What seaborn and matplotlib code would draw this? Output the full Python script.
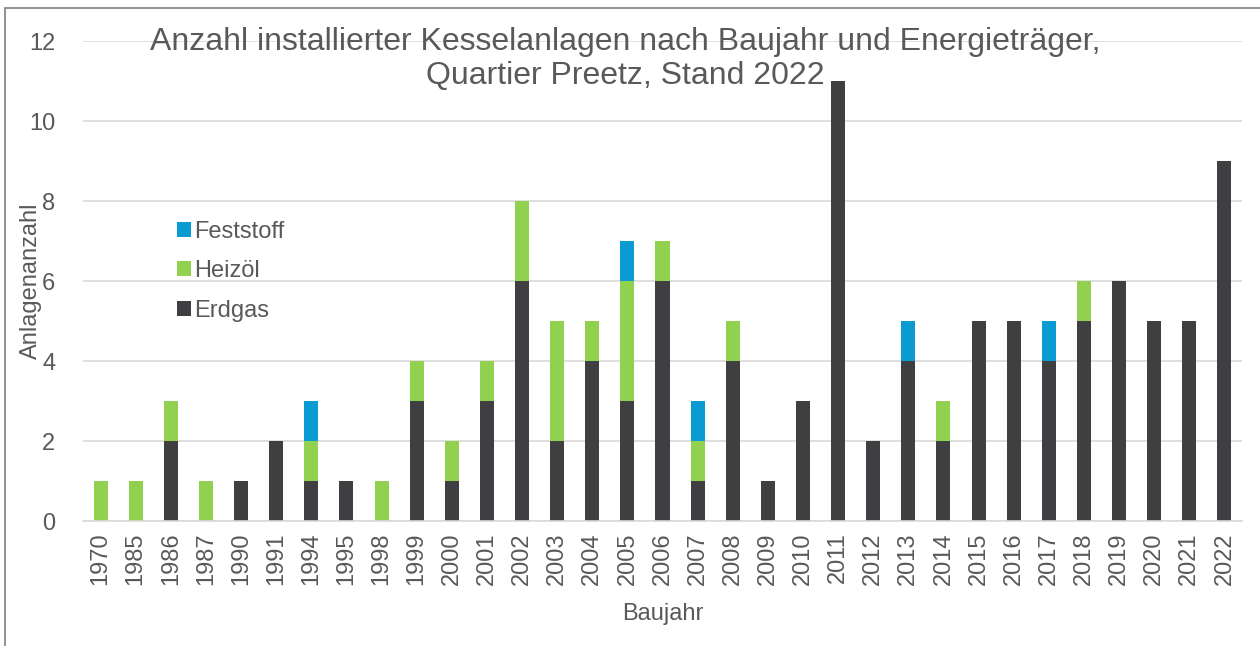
import matplotlib
matplotlib.use("Agg")
import matplotlib.pyplot as plt
import seaborn as sns
import numpy as np
import pandas as pd
from matplotlib.patches import Rectangle

years = ["1970", "1985", "1986", "1987", "1990", "1991", "1994", "1995", "1998", "1999",
         "2000", "2001", "2002", "2003", "2004", "2005", "2006", "2007", "2008", "2009",
         "2010", "2011", "2012", "2013", "2014", "2015", "2016", "2017", "2018", "2019",
         "2020", "2021", "2022"]
erdgas = [0, 0, 2, 0, 1, 2, 1, 1, 0, 3,
          1, 3, 6, 2, 4, 3, 6, 1, 4, 1,
          3, 11, 2, 4, 2, 5, 5, 4, 5, 6,
          5, 5, 9]
heizoel = [1, 1, 1, 1, 0, 0, 1, 0, 1, 1,
           1, 1, 2, 3, 1, 3, 1, 1, 1, 0,
           0, 0, 0, 0, 1, 0, 0, 0, 1, 0,
           0, 0, 0]
feststoff = [0, 0, 0, 0, 0, 0, 1, 0, 0, 0,
             0, 0, 0, 0, 0, 1, 0, 1, 0, 0,
             0, 0, 0, 1, 0, 0, 0, 1, 0, 0,
             0, 0, 0]

c_erdgas = "#3f3f41"
c_heiz = "#92d050"
c_fest = "#0a9bd2"
txt = "#595959"
FS = 17

sns.set_theme(style="white")
plt.rcParams["font.family"] = ["Liberation Sans", "DejaVu Sans"]

df = pd.DataFrame({"Baujahr": years, "Erdgas": erdgas, "Heizöl": heizoel, "Feststoff": feststoff})

fig = plt.figure(figsize=(12.6, 6.46), dpi=100)
W, H = 1260, 646
ax = fig.add_axes([83 / W, 1 - 521 / H, (1242 - 83) / W, (521 - 41) / H])

b1 = np.array(erdgas)
b2 = b1 + np.array(heizoel)
sns.barplot(data=df, x="Baujahr", y="Erdgas", color=c_erdgas, width=0.4, ax=ax,
            saturation=1, label="Erdgas", linewidth=0)
sns.barplot(data=df, x="Baujahr", y="Heizöl", color=c_heiz, width=0.4, ax=ax,
            saturation=1, bottom=b1, label="Heizöl", linewidth=0)
sns.barplot(data=df, x="Baujahr", y="Feststoff", color=c_fest, width=0.4, ax=ax,
            saturation=1, bottom=b2, label="Feststoff", linewidth=0)

ax.set_ylim(0, 12)
ax.set_xlim(-0.5, len(years) - 0.5)
ax.set_yticks(range(0, 13, 2))
ax.yaxis.grid(True, color="#d9d9d9", linewidth=1.2)
ax.set_axisbelow(True)
for s in ["top", "right", "left"]:
    ax.spines[s].set_visible(False)
ax.spines["bottom"].set_color("#d9d9d9")
ax.spines["bottom"].set_linewidth(1.2)
ax.tick_params(axis="both", length=0, labelsize=FS, colors=txt)
ax.tick_params(axis="y", pad=20)
ax.tick_params(axis="x", pad=8)
plt.setp(ax.get_xticklabels(), rotation=90)
ax.set_xlabel("Baujahr", fontsize=FS, color=txt)
ax.set_ylabel("Anlagenanzahl", fontsize=FS, color=txt)
ax.xaxis.set_label_coords(0.5, -(614 - 521) / 480)
ax.xaxis.label.set_va("center")
ax.yaxis.set_label_coords((31 - 83) / 1159, (521 - 281) / 480)
ax.yaxis.label.set_va("center")

handles, labels = ax.get_legend_handles_labels()
order = [labels.index(l) for l in ["Feststoff", "Heizöl", "Erdgas"]]
leg = ax.legend([handles[i] for i in order], [labels[i] for i in order],
                loc="upper left", bbox_to_anchor=((165 - 83) / (1242 - 83), (521 - 209) / 480),
                frameon=False, fontsize=FS, handlelength=0.6, handleheight=0.6,
                handletextpad=0.15, labelspacing=0.74, labelcolor=txt, borderpad=0)

fig.text(625 / W, 1 - 42 / H, "Anzahl installierter Kesselanlagen nach Baujahr und Energieträger,",
         ha="center", va="center", fontsize=23, color=txt)
fig.text(625 / W, 1 - 76 / H, "Quartier Preetz, Stand 2022",
         ha="center", va="center", fontsize=23, color=txt)

fig.patches.append(Rectangle((5 / W, -0.1), 1.2, 1 - 8 / H + 0.1, transform=fig.transFigure,
                             fill=False, edgecolor="#7f7f7f", linewidth=1.2))

fig.savefig("out.png", dpi=100)
